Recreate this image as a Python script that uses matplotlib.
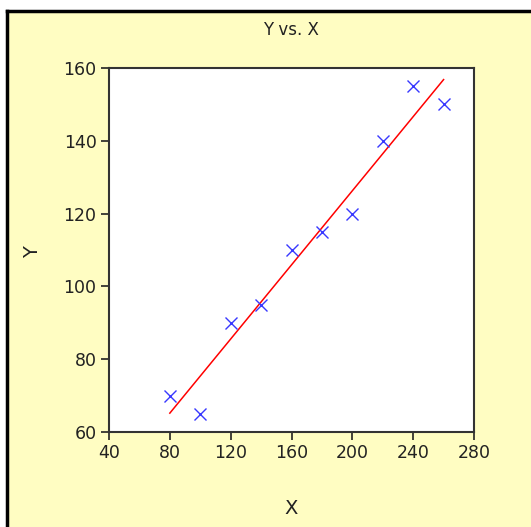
import numpy as np
import matplotlib.pyplot as plt
from matplotlib.patches import Rectangle
from matplotlib.lines import Line2D

# data
x_vals = [80, 100, 120, 140, 160, 180, 200, 220, 240, 260]
y_vals = [70, 65, 90, 95, 110, 115, 120, 140, 155, 150]
x_ticks = [40, 80, 120, 160, 200, 240, 280]
y_ticks = [60, 80, 100, 120, 140, 160]

W, H = 531, 527
fig = plt.figure(figsize=(W / 100, H / 100), dpi=100, facecolor="white")
plt.rcParams['font.family'] = ['DejaVu Sans']

# yellow panel with black border on top and left
fig.patches.append(Rectangle((7 / W, 0), 1, 1 - 11 / H, transform=fig.transFigure,
                             facecolor="#FFFDC2", edgecolor="none", zorder=-5))
fig.lines.append(Line2D([7 / W, 1], [1 - 10.5 / H, 1 - 10.5 / H], transform=fig.transFigure,
                        color="black", lw=2.5, zorder=-4))
fig.lines.append(Line2D([7 / W, 7 / W], [0, 1 - 10.5 / H], transform=fig.transFigure,
                        color="black", lw=2.5, zorder=-4))

ax = fig.add_axes([109 / W, 1 - 432 / H, (474 - 109) / W, (432 - 68) / H])
ax.set_zorder(1)
ax.set_facecolor("white")

# regression line over the data range
slope, intercept = np.polyfit(x_vals, y_vals, 1)
xl = np.array([min(x_vals), max(x_vals)])
ax.plot(xl, slope * xl + intercept, color="#FF0000", lw=1.1, zorder=2)
ax.plot(x_vals, y_vals, linestyle="none", marker="x", ms=8, mew=1.0,
        color="#3838FF", zorder=3)

ax.set_xlim(40, 280)
ax.set_ylim(60, 160)
ax.set_xticks(x_ticks)
ax.set_yticks(y_ticks)
ax.tick_params(direction="out", length=6, width=1.2, colors="#222222",
               labelsize=12.5, pad=3)
for s in ax.spines.values():
    s.set_color("#333333")
    s.set_linewidth(1.5)

fig.text(291 / W, 1 - 30 / H, "Y vs. X", ha="center", va="center", fontsize=12, color="#222222")
fig.text(291 / W, 1 - 508 / H, "X", ha="center", va="center", fontsize=14, color="#222222")
fig.text(33 / W, 1 - 252 / H, "Y", ha="center", va="center", rotation=90, fontsize=14,
         color="#222222")

fig.savefig("out.png", dpi=100, facecolor=fig.get_facecolor())
